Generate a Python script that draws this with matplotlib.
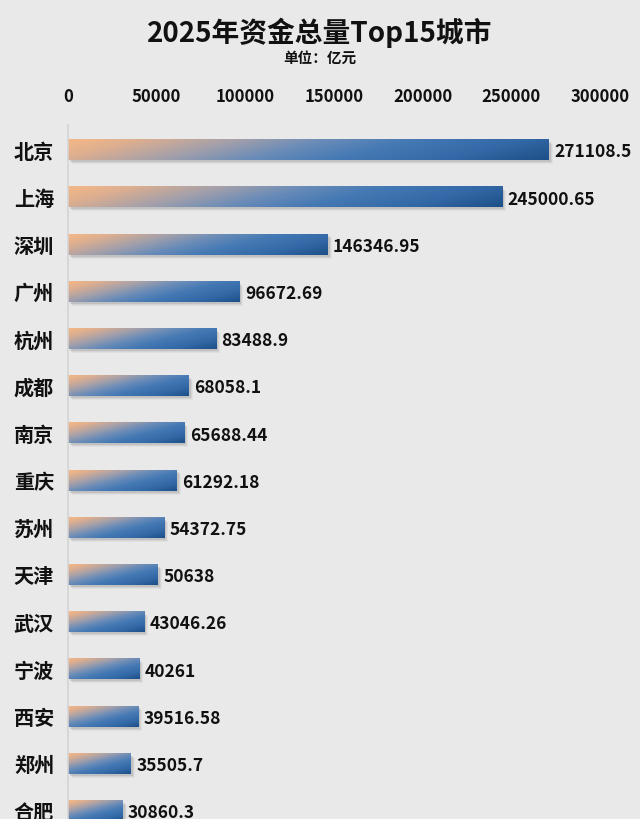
import matplotlib
matplotlib.use('Agg')
import matplotlib.pyplot as plt
import numpy as np
from matplotlib.colors import LinearSegmentedColormap
from matplotlib.patches import Rectangle

plt.rcParams['font.family'] = ['Noto Sans CJK SC', 'DejaVu Sans']

# Data
cities = ['北京', '上海', '深圳', '广州', '杭州', '成都', '南京', '重庆',
          '苏州', '天津', '武汉', '宁波', '西安', '郑州', '合肥']
values = [271108.5, 245000.65, 146346.95, 96672.69, 83488.9, 68058.1,
          65688.44, 61292.18, 54372.75, 50638, 43046.26, 40261,
          39516.58, 35505.7, 30860.3]
labels = ['271108.5', '245000.65', '146346.95', '96672.69', '83488.9',
          '68058.1', '65688.44', '61292.18', '54372.75', '50638',
          '43046.26', '40261', '39516.58', '35505.7', '30860.3']
xticks = [0, 50000, 100000, 150000, 200000, 250000, 300000]

bg = '#e9e9e9'
cmap = LinearSegmentedColormap.from_list(
    'bar', [(0.0, '#f5b886'), (0.13, '#dcae90'), (0.3, '#a4a0aa'),
            (0.46, '#6a8cb8'), (0.62, '#4479b4'), (0.82, '#3268a6'),
            (1.0, '#1d5088')])

fig = plt.figure(figsize=(6.4, 8.19), dpi=100, facecolor=bg)
ax_w_px, ax_h_px = 532, 694
ax = fig.add_axes([68/640, 0, ax_w_px/640, ax_h_px/819])
ax.set_facecolor(bg)

h = 0.43
xmax = 300000
row_px = 47.2
bar_h_px = h * row_px
k_vert = 4.0  # steep angle: vertical distance counts more

for i, (v, lab) in enumerate(zip(values, labels)):
    # soft drop shadow (bottom-right)
    for k, a in enumerate([0.12, 0.08, 0.05]):
        dx = (2 + k) * xmax / ax_w_px
        dy = (2 + k) / row_px
        ax.add_patch(Rectangle((dx, i - h/2 + dy), v, h, facecolor='#444444',
                               alpha=a, edgecolor='none', zorder=1))
    # linear gradient, orange top-left -> blue bottom-right
    w_px = v / xmax * ax_w_px
    xs = np.linspace(0, w_px, 300)[None, :]
    ys = np.linspace(0, bar_h_px, 30)[:, None]
    grad = (xs + k_vert * ys) / (w_px + k_vert * bar_h_px)
    ax.imshow(grad, cmap=cmap, vmin=0, vmax=1,
              extent=(0, v, i + h/2, i - h/2),
              aspect='auto', interpolation='bilinear', zorder=2)
    ax.text(v + 3000, i + 0.05, lab, ha='left', va='center', fontsize=12.5,
            fontweight='bold', color='#111111')

ax.set_xlim(0, xmax)
ax.set_ylim(14.17, -0.53)
ax.set_yticks(range(len(cities)))
ax.set_yticklabels(cities, fontsize=14.5, fontweight='bold', color='#111111')
ax.set_xticks(xticks)
ax.set_xticklabels([str(t) for t in xticks], fontsize=12, fontweight='bold',
                   color='#111111')
ax.xaxis.tick_top()
ax.tick_params(axis='x', length=0, pad=14)
ax.tick_params(axis='y', length=0, pad=10)
for s in ['top', 'right', 'bottom']:
    ax.spines[s].set_visible(False)
ax.spines['left'].set_color('#d4d4d4')
ax.spines['left'].set_linewidth(1.2)

fig.text(0.5, 1 - 33/819, '2025年资金总量Top15城市', ha='center', va='center',
         fontsize=20, fontweight='bold', color='#111111')
fig.text(0.5, 1 - 58/819, '单位：亿元', ha='center', va='center',
         fontsize=10.5, fontweight='bold', color='#111111')

fig.savefig('out.png', dpi=100, facecolor=bg)
